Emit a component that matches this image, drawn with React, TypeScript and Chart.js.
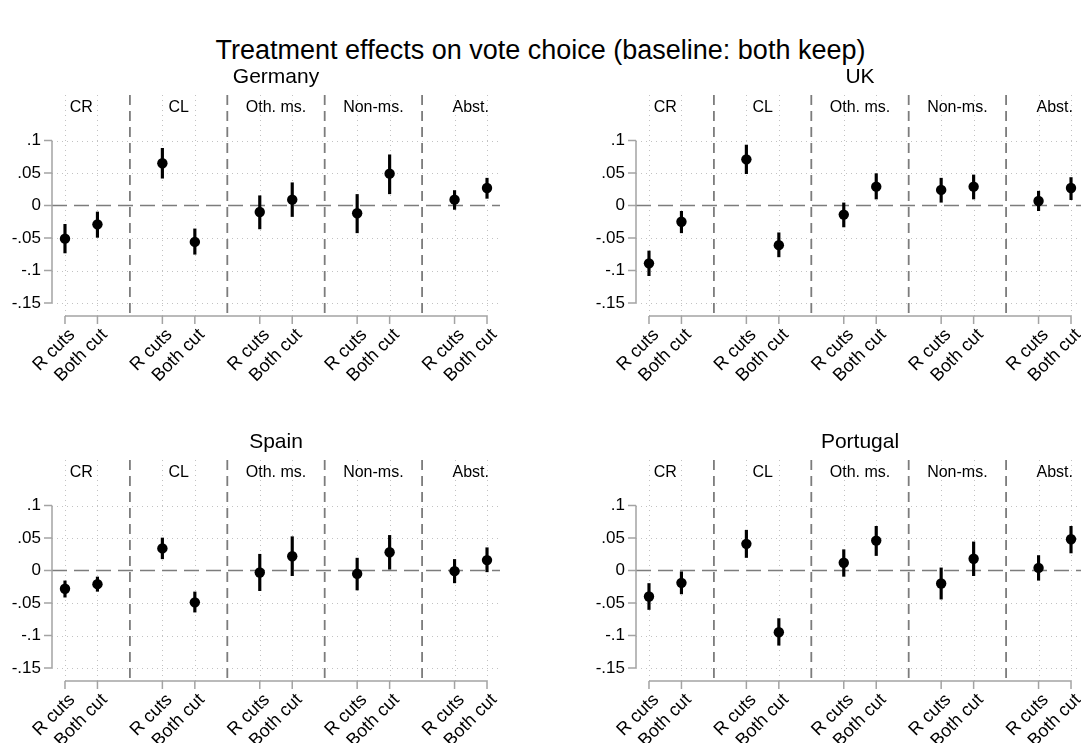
import React, { useEffect, useRef } from "react";
import { Chart, registerables } from "chart.js";
Chart.register(...registerables);

const FONT = '"Liberation Sans", Arial, Helvetica, sans-serif';

const mainTitle = "Treatment effects on vote choice (baseline: both keep)";
const categories = ["CR", "CL", "Oth. ms.", "Non-ms.", "Abst."];
const treatments = ["R cuts", "Both cut"];
const yTickValues = [0.1, 0.05, 0, -0.05, -0.1, -0.15];
const yTickLabels = [".1", ".05", "0", "-.05", "-.1", "-.15"];

// order: CR (R cuts, Both cut), CL (...), Oth. ms. (...), Non-ms. (...), Abst. (...)
const germanyEst = [-0.051, -0.029, 0.065, -0.056, -0.010, 0.009, -0.012, 0.049, 0.009, 0.027];
const germanyLo = [-0.073, -0.049, 0.042, -0.075, -0.036, -0.017, -0.042, 0.018, -0.006, 0.011];
const germanyHi = [-0.029, -0.010, 0.088, -0.036, 0.015, 0.035, 0.017, 0.078, 0.023, 0.042];

const ukEst = [-0.089, -0.025, 0.071, -0.061, -0.014, 0.029, 0.024, 0.029, 0.007, 0.027];
const ukLo = [-0.108, -0.042, 0.049, -0.079, -0.033, 0.010, 0.005, 0.010, -0.008, 0.009];
const ukHi = [-0.070, -0.009, 0.093, -0.042, 0.004, 0.049, 0.042, 0.047, 0.022, 0.043];

const spainEst = [-0.028, -0.021, 0.034, -0.049, -0.003, 0.022, -0.005, 0.028, -0.001, 0.016];
const spainLo = [-0.041, -0.032, 0.018, -0.064, -0.031, -0.008, -0.030, 0.002, -0.019, -0.002];
const spainHi = [-0.016, -0.010, 0.050, -0.033, 0.025, 0.052, 0.019, 0.054, 0.017, 0.035];

const portugalEst = [-0.040, -0.019, 0.041, -0.095, 0.012, 0.046, -0.020, 0.018, 0.004, 0.048];
const portugalLo = [-0.060, -0.036, 0.020, -0.115, -0.009, 0.023, -0.044, -0.008, -0.015, 0.027];
const portugalHi = [-0.020, -0.002, 0.062, -0.074, 0.032, 0.068, 0.004, 0.044, 0.023, 0.068];

const panels = [
  { name: "Germany", est: germanyEst, lo: germanyLo, hi: germanyHi, left: 0, top: 60 },
  { name: "UK", est: ukEst, lo: ukLo, hi: ukHi, left: 584, top: 60 },
  { name: "Spain", est: spainEst, lo: spainLo, hi: spainHi, left: 0, top: 425 },
  { name: "Portugal", est: portugalEst, lo: portugalLo, hi: portugalHi, left: 584, top: 425 },
];

const xPos = (i: number) => Math.floor(i / 2) * 3 + (i % 2) + 1;
const xTickValues = categories.flatMap((_, g) => treatments.map((_, t) => g * 3 + t + 1));
const xTickLabels = categories.flatMap(() => treatments);
const separators = categories.slice(1).map((_, g) => (g + 1) * 3);

const CANVAS_W = 540;
const CANVAS_H = 325;

function line(ctx: CanvasRenderingContext2D, x1: number, y1: number, x2: number, y2: number) {
  ctx.beginPath();
  ctx.moveTo(x1, y1);
  ctx.lineTo(x2, y2);
  ctx.stroke();
}

function makeDecor(title: string) {
  return {
    id: "panelDecor",
    beforeDatasetsDraw(chart: any) {
      const { ctx, chartArea: ca, scales } = chart;
      const x = scales.x;
      const y = scales.y;
      ctx.save();
      // dotted grid
      ctx.strokeStyle = "#c2c2c2";
      ctx.lineWidth = 1;
      ctx.setLineDash([1, 4]);
      yTickValues.forEach((v) => {
        if (v === 0) return;
        const py = Math.round(y.getPixelForValue(v)) + 0.5;
        line(ctx, ca.left, py, ca.right, py);
      });
      xTickValues.forEach((v) => {
        const px = Math.round(x.getPixelForValue(v)) + 0.5;
        line(ctx, px, ca.top, px, ca.bottom);
      });
      // separators
      ctx.strokeStyle = "#7c7c7c";
      ctx.lineWidth = 1.8;
      ctx.setLineDash([10, 6]);
      separators.forEach((v) => {
        const px = x.getPixelForValue(v);
        line(ctx, px, ca.top, px, ca.bottom);
      });
      // zero line
      ctx.setLineDash([15, 7]);
      ctx.lineWidth = 1.6;
      const y0 = y.getPixelForValue(0);
      line(ctx, ca.left, y0, ca.right, y0);
      // axes
      ctx.setLineDash([]);
      ctx.strokeStyle = "#a3a3a3";
      ctx.lineWidth = 1.5;
      const yTop = y.getPixelForValue(yTickValues[0]);
      const yBot = y.getPixelForValue(yTickValues[yTickValues.length - 1]);
      line(ctx, ca.left, yTop, ca.left, yBot);
      yTickValues.forEach((v) => {
        const py = y.getPixelForValue(v);
        line(ctx, ca.left - 8, py, ca.left, py);
      });
      const xFirst = x.getPixelForValue(xTickValues[0]);
      const xLast = x.getPixelForValue(xTickValues[xTickValues.length - 1]);
      line(ctx, xFirst, ca.bottom, xLast, ca.bottom);
      xTickValues.forEach((v) => {
        const px = x.getPixelForValue(v);
        line(ctx, px, ca.bottom, px, ca.bottom + 8);
      });
      ctx.restore();
    },
    afterDraw(chart: any) {
      const { ctx, chartArea: ca, scales } = chart;
      const x = scales.x;
      const y = scales.y;
      ctx.save();
      ctx.fillStyle = "#000";
      // panel title
      ctx.textAlign = "center";
      ctx.textBaseline = "middle";
      ctx.font = `21px ${FONT}`;
      ctx.fillText(title, (ca.left + ca.right) / 2, ca.top - 17.5);
      // group labels
      ctx.font = `16px ${FONT}`;
      categories.forEach((c, g) => {
        const cx = x.getPixelForValue(g * 3 + 1.5);
        ctx.fillText(c, cx, ca.top + 13);
      });
      // y tick labels
      ctx.font = `17px ${FONT}`;
      ctx.textAlign = "right";
      yTickValues.forEach((v, i) => {
        ctx.fillText(yTickLabels[i], ca.left - 11, y.getPixelForValue(v));
      });
      // x tick labels (rotated 45 degrees)
      ctx.font = `18px ${FONT}`;
      xTickValues.forEach((v, i) => {
        const px = x.getPixelForValue(v);
        ctx.save();
        ctx.translate(px + 7, ca.bottom + 16);
        ctx.rotate(-Math.PI / 4);
        ctx.textAlign = "right";
        ctx.textBaseline = "middle";
        ctx.fillText(xTickLabels[i], 0, 0);
        ctx.restore();
      });
      ctx.restore();
    },
  };
}

function Panel({ p }: { p: (typeof panels)[number] }) {
  const ref = useRef<HTMLCanvasElement>(null);
  useEffect(() => {
    if (!ref.current) return;
    const chart = new Chart(ref.current, {
      type: "bar",
      data: {
        datasets: [
          {
            type: "scatter",
            data: p.est.map((v, i) => ({ x: xPos(i), y: v })),
            pointRadius: 5.2,
            pointBackgroundColor: "#000",
            pointBorderWidth: 0,
            showLine: false,
            order: 0,
          } as any,
          {
            type: "bar",
            data: p.lo.map((l, i) => ({ x: xPos(i), y: [l, p.hi[i]] })),
            backgroundColor: "#000",
            barThickness: 2.5,
            grouped: false,
            order: 1,
          } as any,
        ],
      },
      options: {
        animation: false,
        responsive: false,
        events: [],
        layout: { padding: { top: 35, right: 40, left: 52, bottom: 69 } },
        plugins: {
          legend: { display: false },
          tooltip: { enabled: false },
          title: { display: false },
        },
        scales: {
          x: {
            type: "linear",
            display: false,
            min: 0.6,
            max: 14.4,
            offset: false,
          },
          y: {
            type: "linear",
            display: false,
            min: -0.17,
            max: 0.17,
          },
        },
      } as any,
      plugins: [makeDecor(p.name)],
    });
    return () => chart.destroy();
  }, [p]);
  return (
    <canvas
      ref={ref}
      width={CANVAS_W}
      height={CANVAS_H}
      style={{ position: "absolute", left: p.left, top: p.top, width: CANVAS_W, height: CANVAS_H }}
    />
  );
}

export default function App() {
  return (
    <div
      style={{
        position: "absolute",
        left: 0,
        top: 0,
        width: 1081,
        height: 743,
        overflow: "hidden",
        background: "#fff",
      }}
    >
      <div
        style={{
          position: "absolute",
          left: 0,
          top: 34,
          width: 1081,
          height: 32,
          lineHeight: "32px",
          fontSize: 27,
          fontFamily: FONT,
          textAlign: "center",
          color: "#000",
        }}
      >
        {mainTitle}
      </div>
      {panels.map((p) => (
        <Panel key={p.name} p={p} />
      ))}
    </div>
  );
}
